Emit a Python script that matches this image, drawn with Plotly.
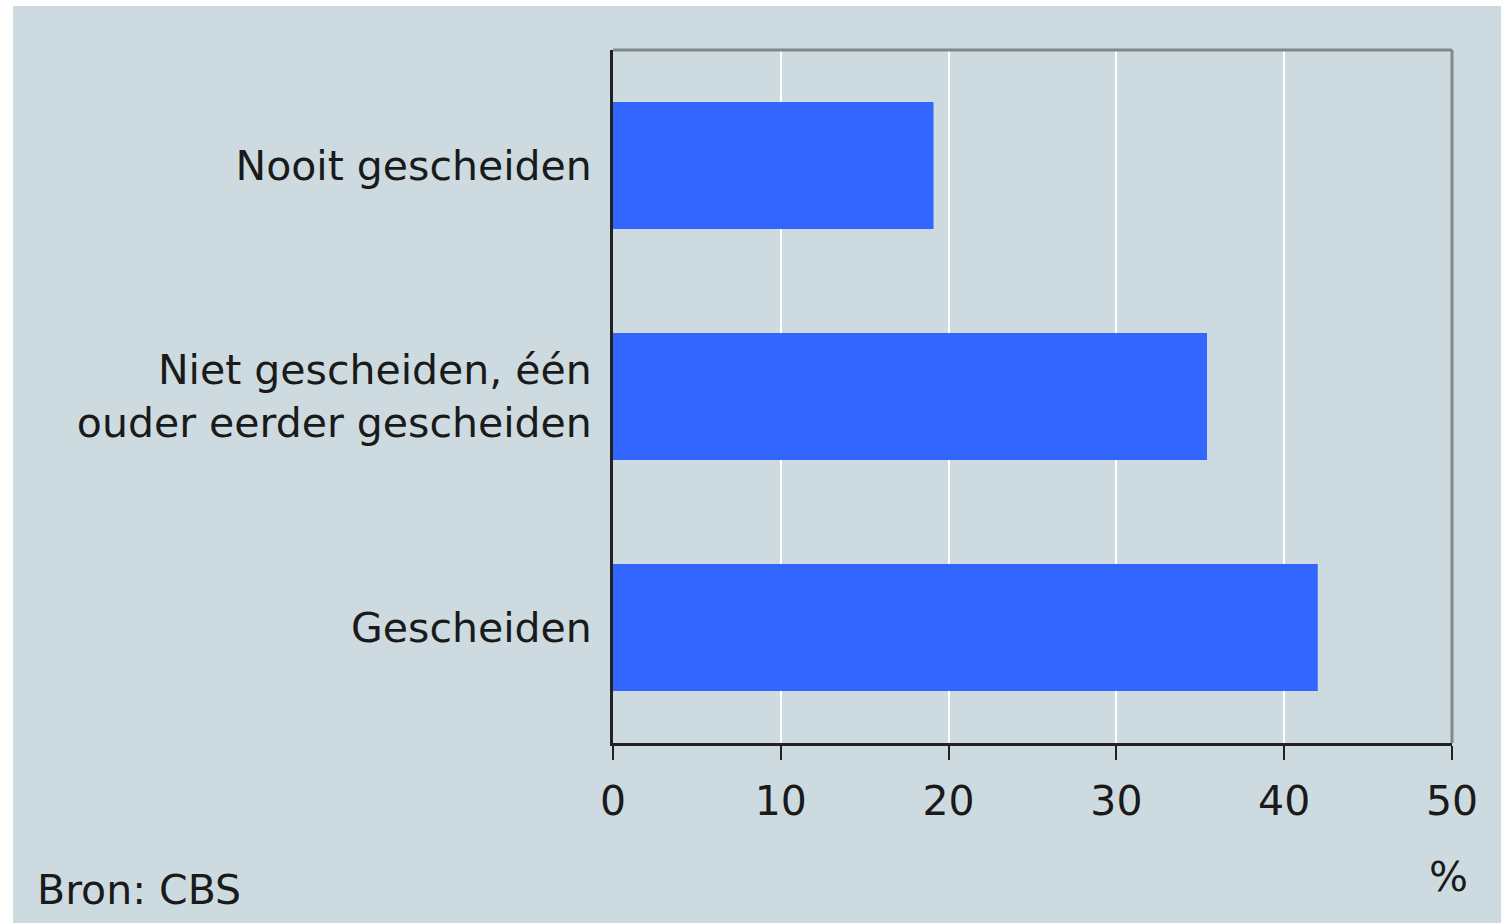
import plotly.graph_objects as go

categories = ["Nooit gescheiden", "Niet gescheiden, één<br>ouder eerder gescheiden", "Gescheiden"]
values = [19.1, 35.4, 42.0]
x_ticks = [0, 10, 20, 30, 40, 50]

W, H = 1501, 923
L, R, T, B = 613, 1452, 50, 743
pw, ph = R - L, B - T

def px(x):
    return (x - L) / pw

def py(y):
    return (B - y) / ph

bg = "#cddbe0"
font = dict(family="DejaVu Sans", size=41, color="#1a1a1a")

fig = go.Figure(go.Bar(
    x=values, y=categories, orientation="h",
    marker=dict(color="#3366ff", line=dict(width=0)),
    width=0.55,
))

fig.update_layout(
    width=W, height=H,
    margin=dict(l=L, r=W - R, t=T, b=H - B),
    paper_bgcolor=bg, plot_bgcolor=bg,
    font=font, showlegend=False,
    xaxis=dict(range=[0, 50], tickvals=x_ticks, showgrid=True, gridcolor="#ffffff", gridwidth=2,
               zeroline=False, showline=True, linecolor="#222222", linewidth=3,
               ticks="outside", ticklen=14, tickwidth=2, tickcolor="#222222",
               ticklabelstandoff=6, tickfont=font),
    yaxis=dict(range=[2.5, -0.5], showgrid=False, zeroline=False, showline=True,
               linecolor="#222222", linewidth=3, ticks="", ticklabelstandoff=10, tickfont=font),
    shapes=[
        dict(type="rect", xref="paper", yref="paper", x0=px(0), x1=px(W), y0=py(0), y1=py(6),
             fillcolor="white", line=dict(width=0), layer="below"),
        dict(type="rect", xref="paper", yref="paper", x0=px(0), x1=px(13), y0=py(H), y1=py(0),
             fillcolor="white", line=dict(width=0), layer="below"),
        dict(type="line", xref="paper", yref="paper", x0=0, x1=1, y0=1, y1=1,
             line=dict(color="#7f8a8f", width=3)),
        dict(type="line", xref="paper", yref="paper", x0=1, x1=1, y0=0, y1=1,
             line=dict(color="#7f8a8f", width=3)),
    ],
    annotations=[
        dict(text="Bron: CBS", xref="paper", yref="paper", x=px(35), y=py(890),
             xanchor="left", yanchor="middle", showarrow=False, font=font),
        dict(text="%", xref="paper", yref="paper", x=px(1448), y=py(877),
             xanchor="center", yanchor="middle", showarrow=False, font=font),
    ],
)

fig.write_html("out.html", config={"displayModeBar": False},
               post_script="document.body.style.margin='0';document.body.style.overflow='hidden';")
